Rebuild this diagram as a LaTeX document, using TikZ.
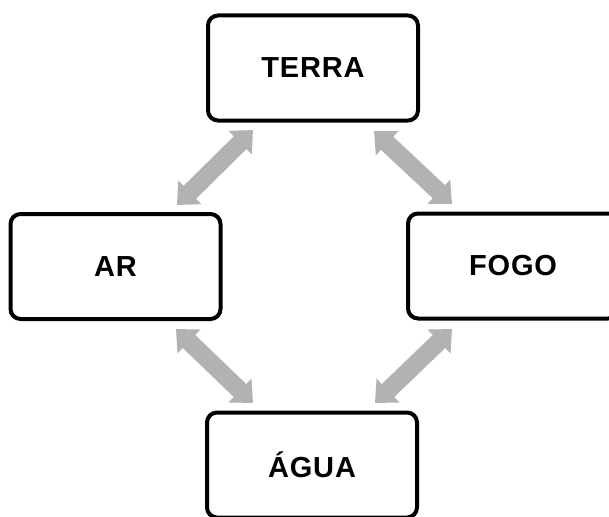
\documentclass[tikz,border=0pt]{standalone}
\usepackage{fontspec}
\setmainfont{Liberation Sans}
\newfontfamily\boxfont[LetterSpace=3]{Liberation Sans}
\usetikzlibrary{arrows.meta}
\definecolor{arrowgray}{RGB}{178,178,178}
\tikzset{
  elembox/.style={draw=black, line width=4pt, rounded corners=10pt, fill=white,
    minimum width=210pt, minimum height=105pt, inner sep=0pt,
    font=\boxfont\fontsize{29}{33}\selectfont\bfseries},
  grayarrow/.style={draw=arrowgray, line width=18pt,
    {Triangle[length=18pt,width=32pt]}-{Triangle[length=18pt,width=32pt]}}
}
\begin{document}
\begin{tikzpicture}[x=1pt,y=-1pt]
\useasboundingbox (0,0) rectangle (609,516);
\clip (0,0) rectangle (609,516);
\node[elembox] (terra) at (313,68) {TERRA};
\node[elembox] (ar) at (115.5,266.5) {AR};
\node[elembox] (fogo) at (513,266) {FOGO};
\node[elembox] (agua) at (312,465) {ÁGUA};
\coordinate (ta1) at (253,130);
\coordinate (ta2) at (177,205);
\coordinate (tf1) at (374,131);
\coordinate (tf2) at (452,204);
\coordinate (aa1) at (176,329);
\coordinate (aa2) at (253,403);
\coordinate (fa1) at (452,329);
\coordinate (fa2) at (375,403);
\draw[grayarrow] (ta1) -- (ta2);
\draw[grayarrow] (tf1) -- (tf2);
\draw[grayarrow] (aa1) -- (aa2);
\draw[grayarrow] (fa1) -- (fa2);
\end{tikzpicture}
\end{document}
